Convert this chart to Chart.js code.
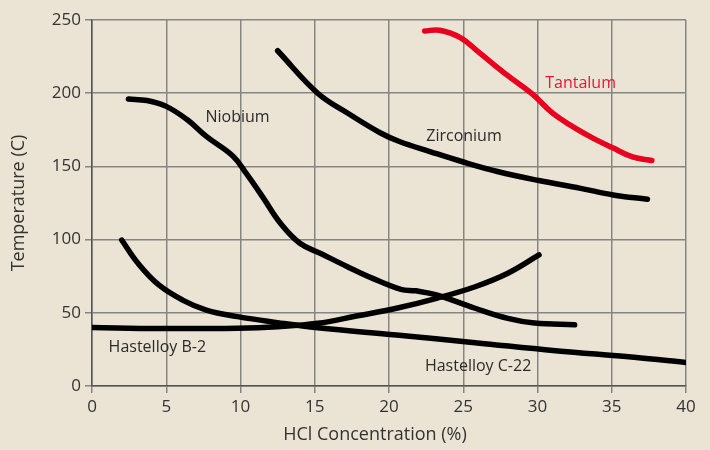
<!DOCTYPE html>
<html>
<head>
<meta charset="utf-8">
<script src="https://cdn.jsdelivr.net/npm/chart.js@4/dist/chart.umd.min.js"></script>
<style>
  html, body { margin: 0; padding: 0; background: #ebe4d5; }
  #wrap { width: 710px; height: 450px; }
</style>
</head>
<body>
<div id="wrap"><canvas id="myChart" width="710" height="450"></canvas></div>
<script>
// HCl concentration (%) vs temperature (C)
var niobiumX = [2.45, 3.7, 5.0, 6.4, 7.7, 9.5, 10.4, 11.5, 12.7, 14.0, 15.4, 17.2, 18.9, 20.8, 21.8, 23.2, 25.8, 28.0, 29.8, 32.5];
var niobiumY = [196, 195, 191, 182, 170.5, 157, 145, 129, 111, 97.5, 90.5, 81.5, 73.5, 66, 65, 62.2, 53.1, 46.2, 43, 41.8];

var zirconiumX = [12.5, 15.2, 17.2, 19.4, 20.7, 22.8, 25.0, 27.3, 30.0, 32.9, 35.1, 37.4];
var zirconiumY = [229, 200, 186.5, 173, 167, 160, 153, 146.5, 140.5, 135, 130.5, 127.5];

var tantalumX = [22.4, 23.4, 24.8, 26.1, 28.0, 29.7, 31.0, 32.4, 33.7, 35.1, 36.4, 37.7];
var tantalumY = [242.5, 243, 238, 227.5, 212, 199, 186.5, 177, 169.5, 162.5, 156.5, 154];

var hastB2X = [0, 4.5, 9.8, 12.5, 15.2, 17.8, 20.5, 23.2, 25.8, 28.0, 30.1];
var hastB2Y = [40, 39.3, 39.5, 40.5, 42.8, 47.8, 53.1, 59.9, 67.8, 77, 89.5];

var hastC22X = [2.0, 3.1, 4.5, 6.1, 7.7, 9.8, 12.5, 15.2, 20.5, 25.8, 31.2, 36.5, 40];
var hastC22Y = [99.7, 83.8, 69, 58.7, 51.9, 47.4, 43.3, 39.8, 34.8, 29.6, 24.1, 19.6, 16];

// curve names and where their labels sit (data coords)
var labelText = ['Niobium', 'Zirconium', 'Tantalum', 'Hastelloy B-2', 'Hastelloy C-22'];
var labelX = [9.8, 25.05, 32.9, 4.4, 26.0];
var labelY = [183.7, 170.8, 207, 26.6, 13.7];
var labelColor = ['#2b2b2b', '#2b2b2b', '#e8173a', '#2b2b2b', '#2b2b2b'];

function pts(xs, ys) {
    var out = [];
    for (var i = 0; i < xs.length; i++) {
        out.push({x: xs[i], y: ys[i]});
    }
    return out;
}

function curve(xs, ys, color) {
    return {
        data: pts(xs, ys),
        showLine: true,
        borderColor: color,
        borderWidth: 5.5,
        borderCapStyle: 'round',
        borderJoinStyle: 'round',
        pointRadius: 0,
        tension: 0.4
    };
}

var textLabels = {
    id: 'textLabels',
    afterDatasetsDraw: function(chart) {
        var ctx = chart.ctx;
        var xs = chart.scales.x, ys = chart.scales.y;
        ctx.save();
        ctx.font = '16px "Open Sans"';
        ctx.textAlign = 'center';
        ctx.textBaseline = 'middle';
        for (var i = 0; i < labelText.length; i++) {
            ctx.fillStyle = labelColor[i];
            ctx.fillText(labelText[i], xs.getPixelForValue(labelX[i]), ys.getPixelForValue(labelY[i]));
        }
        ctx.restore();
    }
};

var bg = {
    id: 'bg',
    beforeDraw: function(chart) {
        var ctx = chart.ctx;
        ctx.save();
        ctx.fillStyle = '#ebe4d5';
        ctx.fillRect(0, 0, chart.width, chart.height);
        ctx.restore();
    }
};

var ctx = document.getElementById('myChart').getContext('2d');
var myChart = new Chart(ctx, {
    type: 'scatter',
    data: {
        datasets: [
            curve(niobiumX, niobiumY, '#000'),
            curve(zirconiumX, zirconiumY, '#000'),
            curve(tantalumX, tantalumY, '#e8001e'),
            curve(hastB2X, hastB2Y, '#000'),
            curve(hastC22X, hastC22Y, '#000')
        ]
    },
    options: {
        responsive: false,
        animation: false,
        layout: { padding: { top: 20, right: 24, left: 0, bottom: 0 } },
        plugins: { legend: { display: false }, tooltip: { enabled: false } },
        scales: {
            x: {
                type: 'linear',
                min: 0, max: 40,
                ticks: { stepSize: 5, color: '#333', font: { family: 'Open Sans', size: 17 }, padding: 4 },
                grid: { color: '#858585', lineWidth: 1.5, tickLength: 7 },
                border: { color: '#555', width: 1.5 },
                title: { display: true, text: 'HCl Concentration (%)      ', color: '#333', font: { family: 'Open Sans', size: 18 }, padding: { top: 6 } },
                afterFit: function(scale) { scale.height = 64; }
            },
            y: {
                min: 0, max: 250,
                ticks: { stepSize: 50, color: '#333', font: { family: 'Open Sans', size: 17 }, padding: 4 },
                grid: { color: '#858585', lineWidth: 1.5, tickLength: 7 },
                border: { color: '#555', width: 1.5 },
                title: { display: true, text: 'Temperature (C)', color: '#333', font: { family: 'Open Sans', size: 18 }, padding: { top: 8, bottom: 0 } },
                afterFit: function(scale) { scale.width = 92; }
            }
        }
    },
    plugins: [bg, textLabels]
});
</script>
</body>
</html>
